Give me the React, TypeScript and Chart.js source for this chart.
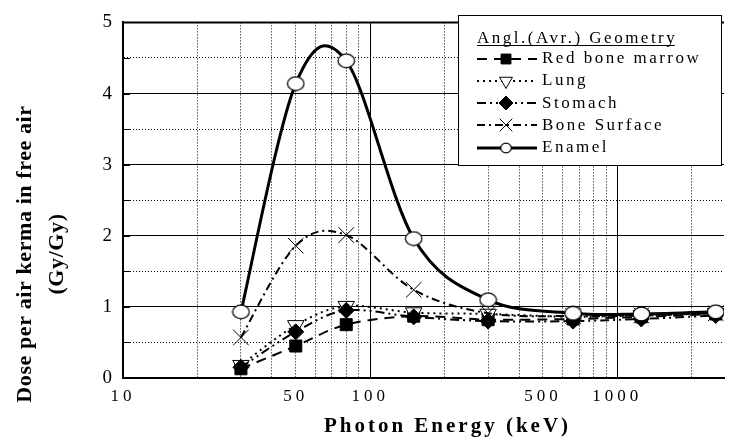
import React, { useEffect, useRef } from 'react';
import { Chart, registerables } from 'chart.js';
import { drawPoint } from 'chart.js/helpers';

Chart.register(...registerables);

// ---- data ----
const energies = [30, 50, 80, 150, 300, 662, 1250, 2500];
const redBoneMarrow = [0.13, 0.45, 0.75, 0.87, 0.82, 0.83, 0.86, 0.9];
const lung = [0.18, 0.74, 1.01, 0.92, 0.9, 0.86, 0.88, 0.91];
const stomach = [0.15, 0.65, 0.95, 0.86, 0.8, 0.8, 0.83, 0.88];
const boneSurface = [0.57, 1.86, 2.01, 1.24, 0.91, 0.87, 0.88, 0.91];
const enamel = [0.93, 4.14, 4.46, 1.96, 1.1, 0.91, 0.9, 0.93];

const seriesLabels = ['Red bone marrow', 'Lung', 'Stomach', 'Bone Surface', 'Enamel'];

const xGridValues = [10, 20, 30, 40, 50, 60, 70, 80, 90, 100, 200, 300, 400, 500, 600, 700, 800, 900, 1000, 2000];
const xTickLabels = [10, 50, 100, 500, 1000];
const xMajorValues = [10, 100, 1000];
const xMin = 10;
const xMax = 2700;
const yMin = 0;
const yMax = 5;
const yStep = 0.5;
const yTickLabels = [0, 1, 2, 3, 4, 5];

const legendTitle = 'Angl.(Avr.) Geometry';
const xTitle = 'Photon Energy (keV)';
const yTitleLines = ['Dose per air kerma in free air', '(Gy/Gy)'];

const SERIF = '"Liberation Serif", "Times New Roman", serif';

function makeEllipse(w: number, h: number, lw: number) {
  const c = document.createElement('canvas');
  c.width = w;
  c.height = h;
  const g = c.getContext('2d') as CanvasRenderingContext2D;
  g.beginPath();
  g.ellipse(w / 2, h / 2, w / 2 - lw, h / 2 - lw, 0, 0, Math.PI * 2);
  g.fillStyle = '#fff';
  g.fill();
  g.lineWidth = lw;
  g.strokeStyle = '#000';
  g.stroke();
  return c;
}

export default function App() {
  const ref = useRef<HTMLCanvasElement>(null);

  useEffect(() => {
    document.body.style.margin = '0';
    document.body.style.overflow = 'hidden';
    const canvas = ref.current as HTMLCanvasElement;
    const ellipse = makeEllipse(19, 16, 1.2);
    const ellipseSmall = makeEllipse(13, 12, 1.2);

    const seriesValues = [redBoneMarrow, lung, stomach, boneSurface, enamel];
    const styles: any[] = [
      { dash: [10, 7], width: 2, pointStyle: 'rect', radius: 8.5, fill: '#000', rotation: 0, legendRadius: 7, order: 5 },
      { dash: [2, 4], width: 2, pointStyle: 'triangle', radius: 9.5, fill: '#fff', rotation: 180, legendRadius: 7.5, order: 4 },
      { dash: [9, 4, 2, 4, 2, 4], width: 2, pointStyle: 'rectRot', radius: 8, fill: '#000', rotation: 0, legendRadius: 7, order: 3 },
      { dash: [8, 4, 2, 4], width: 2, pointStyle: 'crossRot', radius: 11, fill: '#000', rotation: 0, legendRadius: 9, order: 2 },
      { dash: [], width: 3, pointStyle: ellipse, legendStyle: ellipseSmall, radius: 8, fill: '#fff', rotation: 0, legendRadius: 6, order: 1 },
    ];

    const datasets = seriesLabels.map((label, i) => ({
      label,
      data: energies.map((x, j) => ({ x, y: seriesValues[i][j] })),
      borderColor: '#000',
      backgroundColor: styles[i].fill,
      borderWidth: styles[i].width,
      borderDash: styles[i].dash,
      tension: 0.4,
      fill: false,
      pointStyle: styles[i].pointStyle,
      pointRadius: styles[i].radius,
      pointRotation: styles[i].rotation,
      pointBackgroundColor: styles[i].fill,
      pointBorderColor: '#000',
      pointBorderWidth: 1,
      order: styles[i].order,
    }));

    const plugin: any = {
      id: 'paperStyle',
      beforeDraw(chart: any) {
        (chart.ctx as any).letterSpacing = '4px';
      },
      beforeDatasetsDraw(chart: any) {
        (chart.ctx as any).letterSpacing = '0px';
      },
      beforeDatasetDraw(chart: any, args: any) {
        // Excel-style (uniform Catmull-Rom) smoothing on the library's own pixel positions
        const meta = args.meta;
        const line = meta.dataset;
        const pts = meta.data;
        if (!line || !pts || !pts.length) return;
        if (line.updateControlPoints) line.updateControlPoints(chart.chartArea, 'x');
        const n = pts.length;
        for (let i = 0; i < n; i++) {
          const p = pts[i];
          const prev = pts[Math.max(0, i - 1)];
          const next = pts[Math.min(n - 1, i + 1)];
          const dx = (next.x - prev.x) / 6;
          const dy = (next.y - prev.y) / 6;
          p.cp1x = p.x - dx;
          p.cp1y = p.y - dy;
          p.cp2x = p.x + dx;
          p.cp2y = p.y + dy;
        }
        line._path = undefined;
      },
      afterDraw(chart: any) {
        const ctx = chart.ctx as CanvasRenderingContext2D;
        const area = chart.chartArea;
        const ys = chart.scales.y;
        ctx.save();
        (ctx as any).letterSpacing = '0px';
        ctx.setLineDash([]);
        ctx.strokeStyle = '#000';

        // top border of the plot
        ctx.lineWidth = 2;
        ctx.beginPath();
        ctx.moveTo(area.left - 1, area.top);
        ctx.lineTo(area.right, area.top);
        ctx.stroke();

        // small inward ticks on the y axis
        ctx.lineWidth = 1;
        ys.ticks.forEach((t: any) => {
          const py = Math.round(ys.getPixelForValue(t.value)) + 0.5;
          ctx.beginPath();
          ctx.moveTo(area.left, py);
          ctx.lineTo(area.left + 7, py);
          ctx.stroke();
        });

        // legend box
        const lx = 458, ly = 15, lw = 263, lh = 150;
        ctx.fillStyle = '#fff';
        ctx.fillRect(lx, ly, lw, lh);
        ctx.lineWidth = 1;
        ctx.strokeRect(lx + 0.5, ly + 0.5, lw, lh);

        ctx.fillStyle = '#000';
        ctx.font = `17px ${SERIF}`;
        (ctx as any).letterSpacing = '2.5px';
        ctx.textAlign = 'left';
        ctx.textBaseline = 'alphabetic';
        ctx.fillText(legendTitle, 477, 43);
        const tw = ctx.measureText(legendTitle).width - 2.5;
        ctx.beginPath();
        ctx.moveTo(477, 45.5);
        ctx.lineTo(477 + tw, 45.5);
        ctx.stroke();

        seriesLabels.forEach((label, i) => {
          const base = 63 + i * 22.3;
          const cy = Math.round(base - 4.5);
          const st = styles[i];
          ctx.save();
          ctx.lineWidth = st.width;
          ctx.setLineDash(st.dash);
          ctx.beginPath();
          ctx.moveTo(477, cy);
          ctx.lineTo(537, cy);
          ctx.stroke();
          ctx.restore();
          ctx.save();
          ctx.setLineDash([]);
          ctx.fillStyle = st.fill;
          ctx.strokeStyle = '#000';
          ctx.lineWidth = 1;
          drawPoint(ctx, {
            pointStyle: st.legendStyle || st.pointStyle,
            rotation: st.rotation,
            radius: st.legendRadius,
            borderWidth: 1,
          } as any, 506, cy);
          ctx.restore();
          ctx.fillStyle = '#000';
          ctx.font = `17px ${SERIF}`;
          (ctx as any).letterSpacing = '2.5px';
          ctx.fillText(label, 542, base);
        });

        // x title
        ctx.font = `bold 21px ${SERIF}`;
        (ctx as any).letterSpacing = '3px';
        ctx.textAlign = 'center';
        ctx.textBaseline = 'alphabetic';
        ctx.fillText(xTitle, 447.5, 432);

        // y title (two lines, rotated)
        ctx.font = `bold 22px ${SERIF}`;
        (ctx as any).letterSpacing = '0.6px';
        const baselines = [31, 62.5];
        yTitleLines.forEach((txt, i) => {
          ctx.save();
          ctx.translate(baselines[i], 254);
          ctx.rotate(-Math.PI / 2);
          ctx.fillText(txt, 0, 0);
          ctx.restore();
        });
        ctx.restore();
      },
    };

    const chart = new Chart(canvas, {
      type: 'line',
      data: { datasets } as any,
      options: {
        responsive: false,
        animation: false,
        events: [],
        layout: { padding: { top: 15, left: 0, right: 0, bottom: 0 } },
        plugins: {
          legend: { display: false },
          title: { display: false },
          tooltip: { enabled: false },
        },
        scales: {
          x: {
            type: 'logarithmic',
            min: xMin,
            max: xMax,
            afterBuildTicks: (s: any) => {
              s.ticks = xGridValues.map((v) => ({ value: v }));
            },
            afterFit: (s: any) => {
              s.height = 62;
            },
            ticks: {
              autoSkip: false,
              maxRotation: 0,
              minRotation: 0,
              padding: 8,
              color: '#000',
              font: { family: SERIF, size: 17 },
              callback: (v: any) => (xTickLabels.includes(Number(v)) ? String(v) : ''),
            },
            grid: {
              drawTicks: false,
              lineWidth: 1,
              color: '#000',
            },
            border: {
              display: true,
              color: '#000',
              width: 2,
              dash: (c: any) => (c.tick && !xMajorValues.includes(c.tick.value) ? [1, 2] : []),
            },
          },
          y: {
            type: 'linear',
            min: yMin,
            max: yMax,
            afterFit: (s: any) => {
              s.width = 123;
            },
            ticks: {
              stepSize: yStep,
              padding: 11,
              z: 1,
              color: '#000',
              font: { family: SERIF, size: 19 },
              callback: (v: any) => (yTickLabels.includes(Number(v)) ? String(v) : ''),
            },
            grid: {
              drawTicks: false,
              lineWidth: 1,
              color: '#000',
            },
            border: {
              display: true,
              color: '#000',
              width: 2,
              dash: (c: any) => (c.tick && !Number.isInteger(c.tick.value) ? [1, 2] : []),
            },
          },
        },
      } as any,
      plugins: [plugin],
    });

    return () => chart.destroy();
  }, []);

  return (
    <div style={{ width: 736, height: 440 }}>
      <canvas ref={ref} width={736} height={440} style={{ display: 'block' }} />
    </div>
  );
}
